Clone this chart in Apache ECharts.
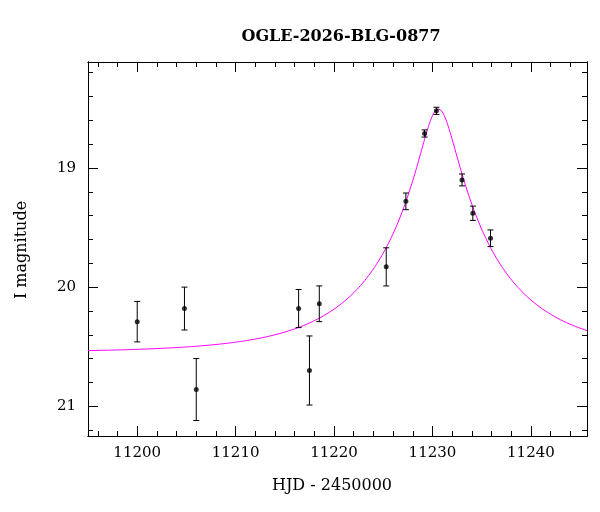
<!DOCTYPE html>
<html><head><meta charset="utf-8">
<script src="https://cdn.jsdelivr.net/npm/echarts@6/dist/echarts.min.js"></script>
<style>html,body{margin:0;padding:0;background:#fff}#c{width:600px;height:512px}</style>
</head><body><div id="c"></div>
<script>
const hjd = [11200.0, 11204.8, 11206.0, 11216.4, 11217.5, 11218.5, 11225.3, 11227.3, 11229.2, 11230.4, 11233.0, 11234.1, 11235.9];
const mag = [20.29, 20.18, 20.86, 20.18, 20.70, 20.14, 19.83, 19.28, 18.71, 18.52, 19.10, 19.38, 19.59];
const err = [0.17, 0.18, 0.26, 0.16, 0.29, 0.15, 0.16, 0.07, 0.03, 0.03, 0.05, 0.06, 0.07];
const xTicks = [11200, 11210, 11220, 11230, 11240];
const yTicks = [19, 20, 21];
// model parameters (Paczynski fit)
const t0 = 11230.6, u0 = 0.153, tE = 11.6, baseMag = 20.55;

const xMin = 11195.0, xMax = 11245.7, yMin = 18.11, yMax = 21.25;
const xMinor = []; for (let v = 11196; v <= 11244; v += 2) if (v % 10) xMinor.push(v);
const yMinor = []; for (let i = 91; i <= 106; i++) { const v = i / 5; if (Math.abs(v - Math.round(v)) > 1e-6) yMinor.push(+v.toFixed(1)); }
const model = [];
for (let t = xMin; t <= xMax + 0.01; t += 0.1) {
  const u = Math.sqrt(u0 * u0 + ((t - t0) / tE) ** 2);
  const A = (u * u + 2) / (u * Math.sqrt(u * u + 4));
  model.push([t, baseMag - 2.5 * Math.log10(A)]);
}
const font = '"DejaVu Serif", "Liberation Serif", serif';
const line = { show: true, lineStyle: { color: '#000', width: 1 } };
function xAx(pos, vals, len, labels) {
  return { type: 'value', position: pos, min: xMin, max: xMax, axisLine: line, splitLine: { show: false },
    axisTick: { show: true, inside: true, length: len, customValues: vals, lineStyle: { color: '#000' } },
    axisLabel: { show: labels, customValues: vals, formatter: v => String(v), color: '#000', fontFamily: font, fontSize: 15, margin: 10 } };
}
function yAx(pos, vals, len, labels) {
  return { type: 'value', position: pos, inverse: true, min: yMin, max: yMax, axisLine: line, splitLine: { show: false },
    axisTick: { show: true, inside: true, length: len, customValues: vals, lineStyle: { color: '#000' } },
    axisLabel: { show: labels, customValues: vals, color: '#000', fontFamily: font, fontSize: 15, margin: 12 } };
}
const chart = echarts.init(document.getElementById('c'));
chart.setOption({
  animation: false,
  title: { text: 'OGLE-2026-BLG-0877', left: 336, top: 24, textAlign: 'center',
    textStyle: { fontFamily: font, fontSize: 16, fontWeight: 'bold', color: '#000' } },
  grid: { left: 88, right: 13, top: 62, bottom: 76 },
  xAxis: [xAx('bottom', xTicks, 10, true), xAx('bottom', xMinor, 5, false), xAx('top', xTicks, 10, false), xAx('top', xMinor, 5, false)],
  yAxis: [yAx('left', yTicks, 10, true), yAx('left', yMinor, 5, false), yAx('right', yTicks, 10, false), yAx('right', yMinor, 5, false)],
  graphic: [
    { type: 'text', left: 272, top: 478, style: { text: 'HJD - 2450000', font: '16px ' + font, fill: '#000' } },
    { type: 'text', x: 14, y: 250, rotation: Math.PI / 2, style: { text: 'I magnitude', font: '16px ' + font, fill: '#000', align: 'center', verticalAlign: 'top' } }
  ],
  series: [
    { type: 'line', data: model, showSymbol: false, lineStyle: { color: '#ff00ff', width: 1 }, z: 1 },
    { type: 'custom', data: hjd.map((x, i) => [x, mag[i], err[i]]), z: 2,
      renderItem: (p, api) => {
        const x = api.value(0), m = api.value(1), e = api.value(2);
        const a = api.coord([x, m - e]), b = api.coord([x, m + e]);
        const s = { stroke: '#000', lineWidth: 1 };
        return { type: 'group', children: [
          { type: 'line', shape: { x1: a[0], y1: a[1], x2: b[0], y2: b[1] }, style: s },
          { type: 'line', shape: { x1: a[0] - 3, y1: a[1], x2: a[0] + 3, y2: a[1] }, style: s },
          { type: 'line', shape: { x1: b[0] - 3, y1: b[1], x2: b[0] + 3, y2: b[1] }, style: s }
        ] };
      } },
    { type: 'scatter', data: hjd.map((x, i) => [x, mag[i]]), symbolSize: 5, itemStyle: { color: '#000' }, z: 3 }
  ]
});
</script></body></html>
